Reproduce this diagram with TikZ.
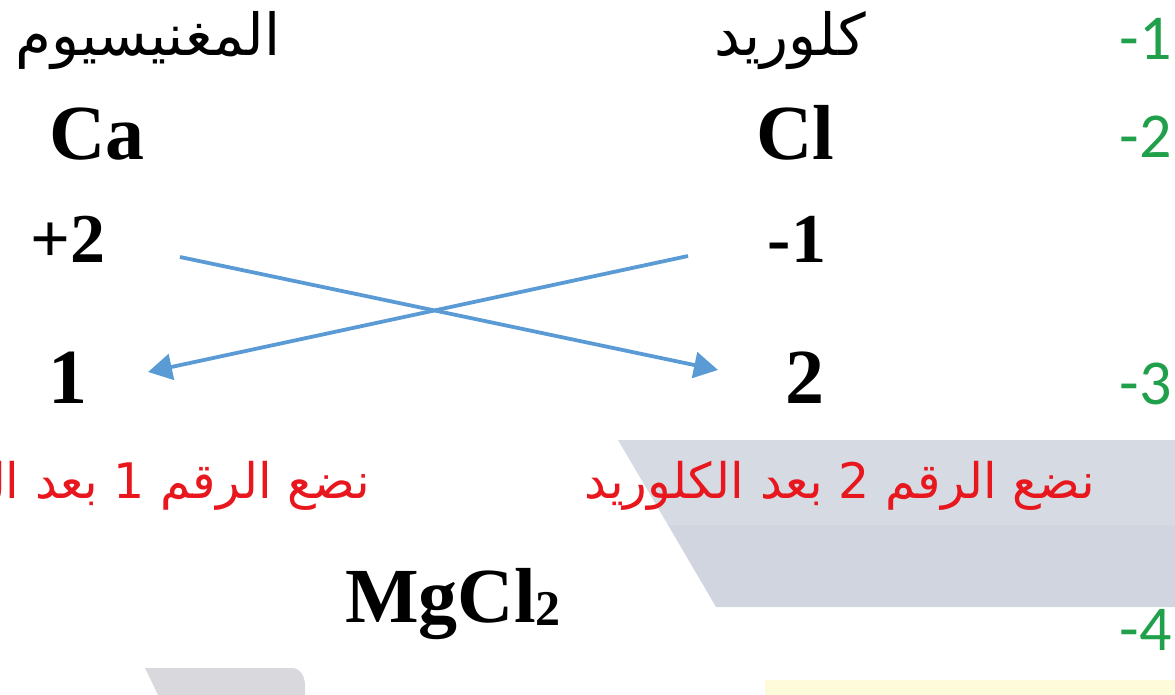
\documentclass[tikz,border=0pt]{standalone}
\usepackage{fontspec}
\setmainfont{Liberation Serif}
\newfontfamily\arabicfont[Script=Arabic]{DejaVu Sans}
\newfontfamily\numfont{Carlito}
\TeXXeTstate=1
\usetikzlibrary{arrows.meta}
\definecolor{arrowblue}{HTML}{5B9BD5}
\definecolor{stepgreen}{HTML}{21A04C}
\definecolor{notered}{HTML}{E8161D}
\definecolor{panelgray}{HTML}{D6DAE3}
\definecolor{panelgraydk}{HTML}{D1D5DF}
\definecolor{tabgray}{HTML}{D9D9DD}
\definecolor{paleyellow}{HTML}{FDFBDA}
\begin{document}
\begin{tikzpicture}[x=1pt,y=-1pt,
  sym/.style={inner sep=0pt, anchor=base, font=\bfseries\fontsize{78}{80}\selectfont},
  chg/.style={inner sep=0pt, anchor=base, font=\bfseries\fontsize{70}{72}\selectfont},
  arname/.style={inner sep=0pt, anchor=base, font=\arabicfont\fontsize{58}{60}\selectfont},
  note/.style={inner sep=0pt, anchor=base east, text=notered, font=\arabicfont\fontsize{49}{52}\selectfont},
  stepnum/.style={inner sep=0pt, anchor=base east, text=stepgreen, font=\numfont\fontsize{64}{66}\selectfont},
  cross/.style={draw=arrowblue, line width=3.8pt, -{Triangle[length=24pt,width=26pt]}}]
\useasboundingbox (0,0) rectangle (1175,695);
\clip (0,0) rectangle (1175,695);
% background pieces
\fill[panelgray] (618,440) -- (1175,440) -- (1175,525) -- (668,525) -- cycle;
\fill[panelgraydk] (668,525) -- (1175,525) -- (1175,607) -- (716,607) -- cycle;
\fill[tabgray] (145,668) -- (292,668) to[out=0,in=90] (305,685) -- (305,695) -- (158,695) -- cycle;
\fill[paleyellow] (765,680) rectangle (1175,695);
% left column
\node[arname] (mgname) at (148,56) {\beginR المغنيسيوم\endR};
\node[sym] (ca) at (97,160) {Ca};
\node[chg] (pos) at (68,262) {+2};
\node[sym] (one) at (68,403) {1};
% right column
\node[arname] (clname) at (790,56) {\beginR كلوريد\endR};
\node[sym] (cl) at (795,160) {Cl};
\node[chg] (neg) at (797,262) {-1};
\node[sym] (two) at (805,403) {2};
% arrows
\coordinate (s1) at (180,257);
\coordinate (e1) at (718,370);
\coordinate (s2) at (688,256);
\coordinate (e2) at (148,372);
\draw[cross] (s1) -- (e1);
\draw[cross] (s2) -- (e2);
% notes
\node[note] (note1) at (370,498) {\beginR نضع الرقم 1 بعد ال\endR};
\node[note] (note2) at (1095,498) {\beginR نضع الرقم 2 بعد الكلوريد\endR};
% formula
\node[sym, anchor=base west] (formula) at (345,622) {MgCl\raisebox{-3pt}{\fontsize{50}{50}\selectfont 2}};
% step numbers
\node[stepnum] (st1) at (1172,60) {-1};
\node[stepnum] (st2) at (1172,158) {-2};
\node[stepnum] (st3) at (1172,404) {-3};
\node[stepnum] (st4) at (1172,650) {-4};
\end{tikzpicture}
\end{document}
